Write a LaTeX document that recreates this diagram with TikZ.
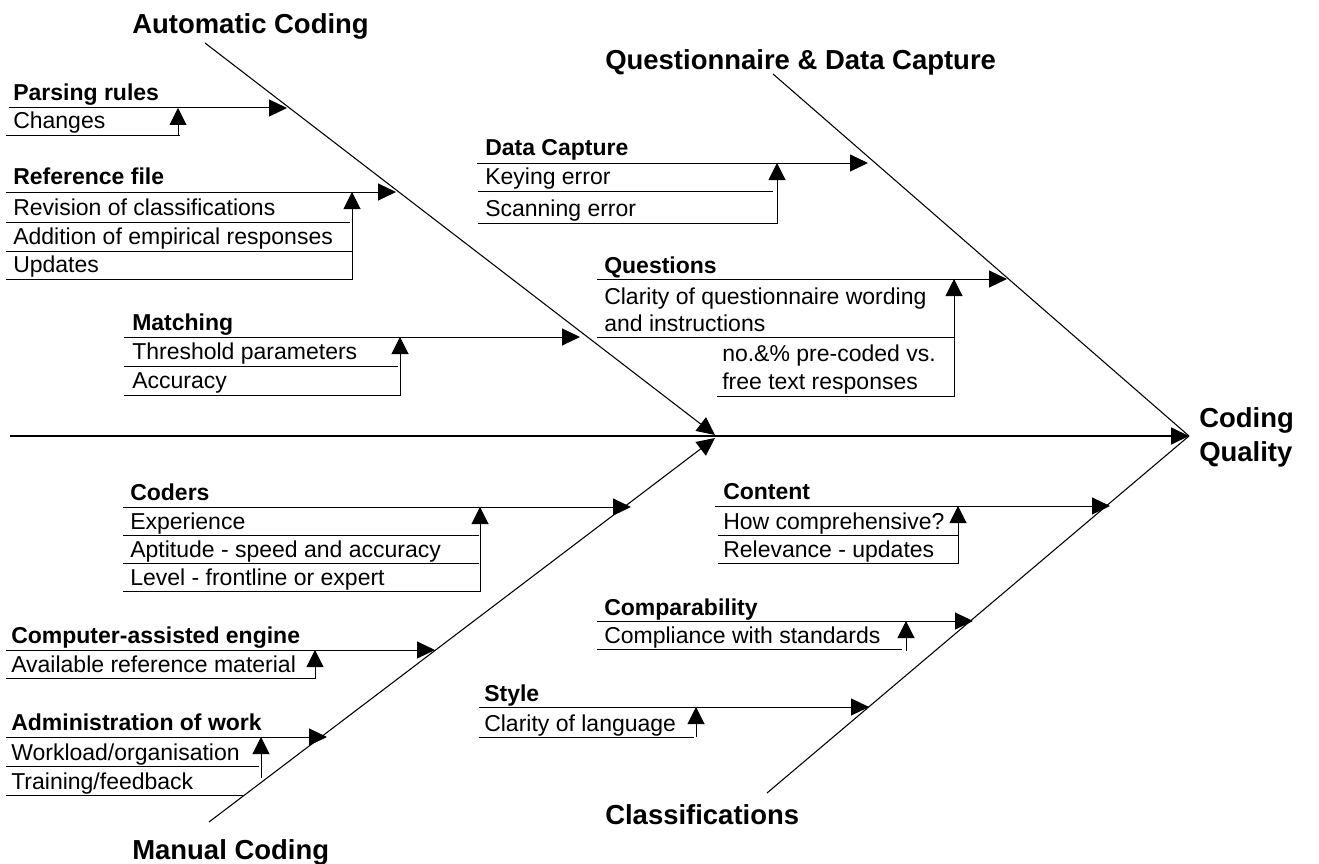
\documentclass[tikz,border=0pt]{standalone}
\usepackage{fontspec}
\setmainfont{Liberation Sans}
\usetikzlibrary{arrows.meta}
\begin{document}
\begin{tikzpicture}[x=0.75pt,y=-0.75pt,
  lbl/.style={anchor=base west, inner sep=0pt, font=\fontsize{17.25}{20}\selectfont},
  ttl/.style={anchor=base west, inner sep=0pt, font=\fontsize{17.25}{20}\selectfont\bfseries},
  big/.style={anchor=base west, inner sep=0pt, font=\fontsize{20.6}{24}\selectfont\bfseries},
  rule/.style={line width=0.75pt},
  branch/.style={line width=0.75pt, -{Triangle[length=13.5pt,width=12.75pt]}},
  feed/.style={line width=0.75pt, -{Triangle[length=12.75pt,width=12.75pt]}},
  bone/.style={line width=0.8pt},
  bonearrow/.style={line width=0.8pt, -{Triangle[length=13.5pt,width=12.75pt]}},
  spine/.style={line width=1.3pt, -{Triangle[length=13.5pt,width=12.75pt]}}]
\useasboundingbox (0,0) rectangle (1319,863);

% main bones
\coordinate (spineL) at (10,436);
\coordinate (head) at (1189,436);
\coordinate (autoS) at (205,43);
\coordinate (autoE) at (715,435);
\coordinate (manS) at (209,822);
\coordinate (manE) at (715,438);
\coordinate (qS) at (773,74);
\coordinate (cS) at (767,793);

\draw[spine] (spineL) -- (head);
\draw[bonearrow] (autoS) -- (autoE);
\draw[bonearrow] (manS) -- (manE);
\draw[bone] (qS) -- (head);
\draw[bone] (cS) -- (head);

% big labels
\node[big] (tAuto) at (132,34) {Automatic Coding};
\node[big] (tQues) at (605,70) {Questionnaire \& Data Capture};
\node[big] (tMan) at (132,859) {Manual Coding};
\node[big] (tCls) at (605,824) {Classifications};
\node[big] (tCQ1) at (1199,427) {Coding};
\node[big] (tCQ2) at (1199,461) {Quality};

% Parsing rules
\node[ttl] (pr) at (13,101) {Parsing rules};
\draw[branch] (9,108) -- (287,108);
\node[lbl] (pr1) at (13,129) {Changes};
\draw[rule] (6,136) -- (180,136);
\draw[feed] (178,136) -- (178,108);

% Reference file
\node[ttl] (rf) at (13,185) {Reference file};
\draw[branch] (6,192) -- (396,192);
\node[lbl] (rf1) at (13,215) {Revision of classifications};
\draw[rule] (6,222) -- (350,222);
\node[lbl] (rf2) at (13,244) {Addition of empirical responses};
\draw[rule] (6,251) -- (352,251);
\node[lbl] (rf3) at (13,272) {Updates};
\draw[rule] (6,279) -- (353,279);
\draw[feed] (352,279) -- (352,192);

% Matching
\node[ttl] (ma) at (132,330) {Matching};
\draw[branch] (124,337) -- (580,337);
\node[lbl] (ma1) at (132,359) {Threshold parameters};
\draw[rule] (124,366) -- (398,366);
\node[lbl] (ma2) at (132,388) {Accuracy};
\draw[rule] (124,395) -- (401,395);
\draw[feed] (400,395) -- (400,337);

% Data Capture
\node[ttl] (dc) at (485,156) {Data Capture};
\draw[branch] (477,163) -- (868,163);
\node[lbl] (dc1) at (485,185) {Keying error};
\draw[rule] (478,191) -- (773,191);
\node[lbl] (dc2) at (485,216) {Scanning error};
\draw[rule] (478,223) -- (778,223);
\draw[feed] (777,223) -- (777,163);

% Questions
\node[ttl] (qu) at (604,273) {Questions};
\draw[branch] (597,279) -- (1007,279);
\node[lbl] (qu1) at (604,304) {Clarity of questionnaire wording};
\node[lbl] (qu1b) at (604,331) {and instructions};
\draw[rule] (597,337) -- (954,337);
\node[lbl] (qu2) at (722,361) {no.\&\% pre-coded vs.};
\node[lbl] (qu2b) at (722,389) {free text responses};
\draw[rule] (717,396) -- (955,396);
\draw[feed] (954,396) -- (954,279);

% Coders
\node[ttl] (co) at (130,500) {Coders};
\draw[branch] (123,507) -- (631,507);
\node[lbl] (co1) at (130,529) {Experience};
\draw[rule] (123,535) -- (479,535);
\node[lbl] (co2) at (130,557) {Aptitude - speed and accuracy};
\draw[rule] (123,563) -- (479,563);
\node[lbl] (co3) at (130,585) {Level - frontline or expert};
\draw[rule] (123,591) -- (481,591);
\draw[feed] (480,591) -- (480,507);

% Computer-assisted engine
\node[ttl] (ca) at (11,643) {Computer-assisted engine};
\draw[branch] (6,650) -- (435,650);
\node[lbl] (ca1) at (11,672) {Available reference material};
\draw[rule] (6,678) -- (316,678);
\draw[feed] (315,678) -- (315,650);

% Administration of work
\node[ttl] (aw) at (11,730) {Administration of work};
\draw[branch] (6,737) -- (327,737);
\node[lbl] (aw1) at (11,760) {Workload/organisation};
\draw[rule] (6,766) -- (259,766);
\node[lbl] (aw2) at (11,789) {Training/feedback};
\draw[rule] (6,795) -- (243,795);
\draw[feed] (261,778) -- (261,737);

% Content
\node[ttl] (ct) at (723,499) {Content};
\draw[branch] (715,506) -- (1110,506);
\node[lbl] (ct1) at (723,529) {How comprehensive?};
\draw[rule] (718,535) -- (958,535);
\node[lbl] (ct2) at (723,557) {Relevance - updates};
\draw[rule] (718,563) -- (959,563);
\draw[feed] (958,563) -- (958,506);

% Comparability
\node[ttl] (cp) at (604,615) {Comparability};
\draw[branch] (597,621) -- (973,621);
\node[lbl] (cp1) at (604,643) {Compliance with standards};
\draw[rule] (597,649) -- (902,649);
\draw[feed] (906,651) -- (906,621);

% Style
\node[ttl] (st) at (484,701) {Style};
\draw[branch] (479,707) -- (869,707);
\node[lbl] (st1) at (484,731) {Clarity of language};
\draw[rule] (479,737) -- (694,737);
\draw[feed] (696,737) -- (696,707);
\end{tikzpicture}
\end{document}
